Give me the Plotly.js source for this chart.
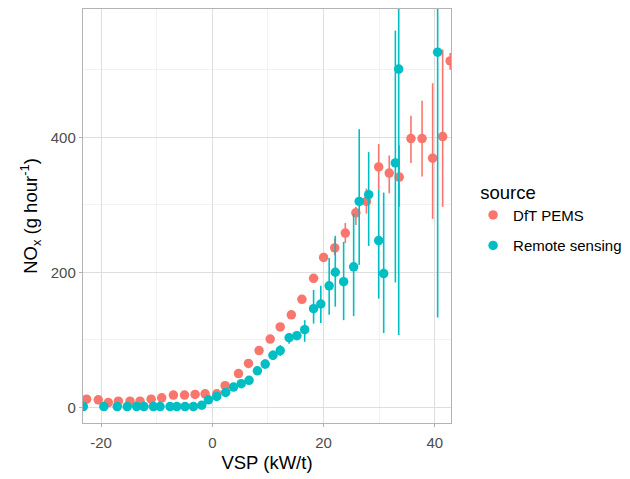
<!DOCTYPE html>
<html>
<head>
<meta charset="utf-8">
<script src="https://cdn.plot.ly/plotly-3.0.1.min.js"></script>
<style>html,body{margin:0;padding:0;background:#fff;}#chart{width:630px;height:479px;}</style>
</head>
<body>
<div id="chart"></div>
<script>
// DfT PEMS
const pemsVSP = [-22.6, -20.5, -18.7, -16.9, -14.8, -13.0, -11.0, -9.1, -7.0, -5.0, -3.1, -1.3, 0.8, 2.3, 4.7, 6.5, 8.4, 10.4, 12.2, 14.2, 16.1, 18.2, 20.0, 22.0, 23.9, 25.8, 27.7, 29.9, 31.8, 33.6, 35.7, 37.7, 39.6, 41.4, 42.75];
const pemsNOx = [12, 11, 7, 9, 9, 9, 12, 14, 18, 18, 19, 20, 20, 32, 50, 65, 84, 101, 119, 137, 160, 191, 222, 236, 258, 288, 305, 356, 347, 341, 398, 398, 369, 401, 513];
const pemsLo  = [10, 9, 5, 7, 7, 7, 10, 12, 16, 16, 17, 18, 18, 30, 47, 62, 81, 97, 115, 133, 155, 185, 215, 225, 243, 270, 287, 322, 317, 297, 362, 342, 279, 297, 500];
const pemsHi  = [14, 13, 9, 11, 11, 11, 14, 16, 20, 20, 21, 22, 22, 34, 53, 68, 87, 105, 123, 141, 165, 197, 229, 250, 273, 297, 324, 390, 373, 388, 432, 454, 480, 530, 525];

// Remote sensing
const rsVSP = [-23.2, -19.5, -17.1, -15.3, -13.6, -12.3, -10.6, -9.4, -7.6, -6.4, -4.9, -3.4, -1.9, -0.7, 0.8, 2.4, 3.8, 5.2, 6.6, 8.1, 9.5, 10.9, 12.2, 13.8, 15.2, 16.6, 18.2, 19.5, 21.0, 22.1, 23.6, 25.4, 26.4, 28.1, 29.9, 30.8, 32.9, 33.5, 40.5];
const rsNOx = [1, 1, 1, 1, 1, 1, 1, 1, 1, 1, 1, 1, 3, 11, 16, 22, 30, 35, 40, 54, 64, 77, 84, 103, 106, 115, 146, 153, 180, 200, 186, 208, 305, 315, 247, 198, 362, 501, 526];
const rsLo  = [0, 0, 0, 0, 0, 0, 0, 0, 0, 0, 0, 0, 2, 9, 14, 19, 27, 31, 35, 48, 57, 70, 76, 94, 100, 97, 124, 125, 137, 149, 129, 135, 211, 239, 161, 110, 185, 107, 133];
const rsHi  = [2, 2, 2, 2, 2, 2, 2, 2, 2, 2, 2, 2, 4, 13, 18, 25, 33, 39, 45, 60, 71, 84, 92, 110, 112, 129, 174, 180, 221, 254, 245, 287, 412, 378, 322, 318, 558, 650, 650];

const seriesNames = ['DfT PEMS', 'Remote sensing'];
const xTickVals = [-20, 0, 20, 40];
const xTickText = ['-20', '0', '20', '40'];
const yTickVals = [0, 200, 400];
const yTickText = ['0', '200', '400'];

function mk(name, x, y, lo, hi, color) {
  return {
    type: 'scatter', mode: 'markers', name: name, legendgroup: name,
    x: x, y: y,
    marker: {color: color, size: 9.5, symbol: 'circle'},
    error_y: {
      type: 'data', symmetric: false,
      array: hi.map((h, i) => h - y[i]),
      arrayminus: lo.map((l, i) => y[i] - l),
      color: color, thickness: 1.6, width: 0
    }
  };
}

const data = [
  mk(seriesNames[0], pemsVSP, pemsNOx, pemsLo, pemsHi, '#F8766D'),
  mk(seriesNames[1], rsVSP, rsNOx, rsLo, rsHi, '#00BFC4')
];

const axisCommon = {
  showgrid: true, gridcolor: '#DEDEDE', gridwidth: 1,
  zeroline: false, showline: true, mirror: true, linecolor: '#B3B3B3', linewidth: 1.2,
  ticks: 'outside', ticklen: 3, tickcolor: '#B3B3B3', tickwidth: 1, automargin: false,
  tickfont: {family: 'Liberation Sans, Arial, sans-serif', size: 15, color: '#4D4D4D'}
};

const layout = {
  width: 630, height: 479,
  margin: {l: 83, r: 179, t: 9, b: 56, autoexpand: false},
  paper_bgcolor: '#FFFFFF', plot_bgcolor: '#FFFFFF',
  font: {family: 'Liberation Sans, Arial, sans-serif', color: '#000000'},
  showlegend: true,
  xaxis: Object.assign({}, axisCommon, {
    range: [-23.25, 42.9], tickmode: 'array', tickvals: xTickVals, ticktext: xTickText,
    ticklabelstandoff: 3,
    minor: {dtick: 10, tick0: 0, showgrid: true, gridcolor: '#EDEDED', gridwidth: 0.7, ticks: ''},
    title: {text: 'VSP (kW/t)', font: {size: 18.5, color: '#000000'}, standoff: 5}
  }),
  yaxis: Object.assign({}, axisCommon, {
    range: [-23.3, 590], tickmode: 'array', tickvals: yTickVals, ticktext: yTickText,
    minor: {dtick: 100, tick0: 0, showgrid: true, gridcolor: '#EDEDED', gridwidth: 0.7, ticks: ''},
    title: {text: 'NO<sub>x</sub> (g hour<sup>-1</sup>)', font: {size: 18.5, color: '#000000'}, standoff: 8}
  }),
  legend: {
    x: 1.06, xanchor: 'left', y: 0.6, yanchor: 'top',
    traceorder: 'grouped', tracegroupgap: 8,
    title: {text: '\u00A0source', font: {size: 18.5, color: '#000000'}},
    font: {size: 15, color: '#000000'},
    bgcolor: 'rgba(0,0,0,0)'
  }
};

Plotly.newPlot('chart', data, layout, {displayModeBar: false, staticPlot: true});
</script>
</body>
</html>
